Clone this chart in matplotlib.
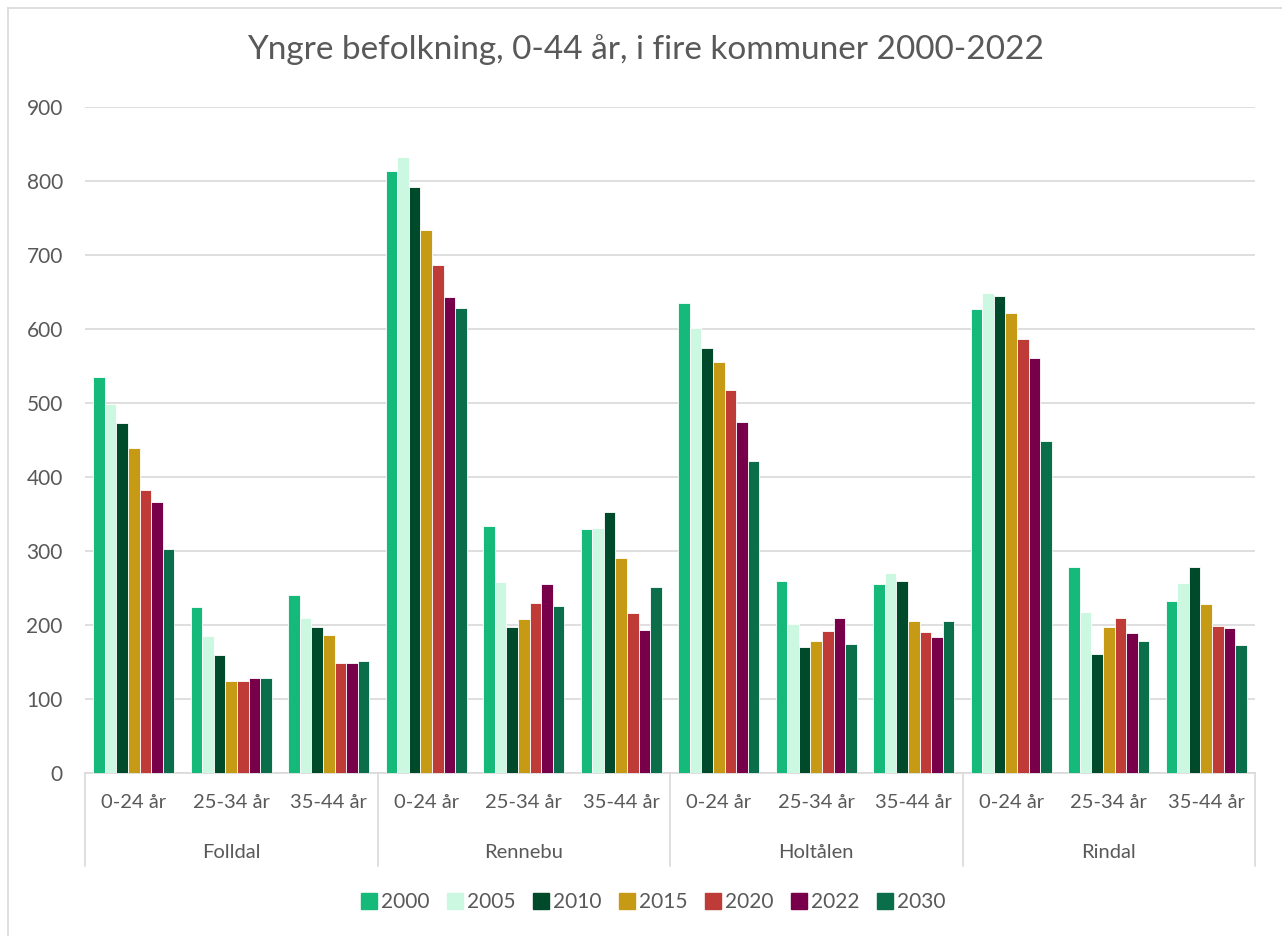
import matplotlib.pyplot as plt
import numpy as np
from matplotlib.lines import Line2D

plt.rcParams["font.family"] = ["Lato", "DejaVu Sans"]

kommuner = ["Folldal", "Rennebu", "Holtålen", "Rindal"]
aldersgrupper = ["0-24 år", "25-34 år", "35-44 år"]
years = ["2000", "2005", "2010", "2015", "2020", "2022", "2030"]
colors = ["#15B97A", "#CCF7E0", "#004A2C", "#C79A15", "#BE3B37", "#78004A", "#0B6E4B"]

# one row per year, 12 values: (kommune x aldersgruppe)
v2000 = [535, 224, 240, 814, 334, 330, 635, 259, 256, 627, 279, 232]
v2005 = [498, 185, 209, 832, 258, 331, 601, 202, 270, 648, 217, 257]
v2010 = [473, 160, 197, 792, 197, 353, 574, 170, 259, 645, 161, 279]
v2015 = [439, 125, 187, 734, 208, 290, 556, 178, 205, 622, 197, 229]
v2020 = [383, 125, 148, 687, 230, 216, 517, 192, 190, 586, 210, 198]
v2022 = [366, 129, 148, 643, 255, 193, 474, 210, 184, 561, 189, 196]
v2030 = [303, 129, 152, 628, 226, 251, 421, 175, 205, 449, 179, 173]
series = [v2000, v2005, v2010, v2015, v2020, v2022, v2030]

W, H = 1282, 936
fig = plt.figure(figsize=(W / 100, H / 100), dpi=100)
ax = fig.add_axes([85 / W, 1 - 773 / H, 1170 / W, 666 / H])

n_cat = len(kommuner) * len(aldersgrupper)
x = np.arange(n_cat) + 0.5
pitch = 0.118
for j, (vals, c) in enumerate(zip(series, colors)):
    ax.bar(x + (j - 3) * pitch, vals, width=pitch, color=c,
           edgecolor="white", linewidth=0.6, zorder=3)

grey = "#595959"
ax.set_xlim(0, n_cat)
ax.set_ylim(0, 900)
ax.set_yticks(range(0, 901, 100))
ax.yaxis.grid(True, color="#D9D9D9", linewidth=1.2, zorder=0)
ax.tick_params(axis="y", length=0, pad=16, labelsize=15, labelcolor=grey)
ax.set_xticks([])
for s in ["top", "right", "left"]:
    ax.spines[s].set_visible(False)
ax.spines["bottom"].set_color("#D9D9D9")
ax.spines["bottom"].set_linewidth(1.2)

# multi-level category axis
trans = ax.get_xaxis_transform()
for i in range(n_cat):
    ax.text(x[i], -30 / 666, aldersgrupper[i % 3], transform=trans,
            ha="center", va="center", fontsize=14.5, color=grey)
for g, name in enumerate(kommuner):
    ax.text(3 * g + 1.5, -79 / 666, name, transform=trans,
            ha="center", va="center", fontsize=14.5, color=grey)
for b in range(len(kommuner) + 1):
    ax.plot([3 * b, 3 * b], [0, -93 / 666], transform=trans,
            color="#D9D9D9", linewidth=1.2, clip_on=False)

fig.text(646 / W, 1 - 50 / H, "Yngre befolkning, 0-44 år, i fire kommuner 2000-2022",
         ha="center", va="center", fontsize=24, color=grey)

handles = [Line2D([], [], marker="s", linestyle="", markersize=11,
                  markerfacecolor=c, markeredgecolor=c) for c in colors]
fig.legend(handles, years, loc="center", bbox_to_anchor=(652 / W, 1 - 902 / H),
           ncol=7, frameon=False, fontsize=15, labelcolor=grey,
           handletextpad=0.1, columnspacing=0.7, handlelength=1.0)

# chart area border
fig.add_artist(Line2D([8 / W, 8 / W], [0, 1 - 8 / H], color="#D9D9D9", linewidth=1.2))
fig.add_artist(Line2D([8 / W, 1], [1 - 8 / H, 1 - 8 / H], color="#D9D9D9", linewidth=1.2))

fig.savefig("out.png", dpi=100)
